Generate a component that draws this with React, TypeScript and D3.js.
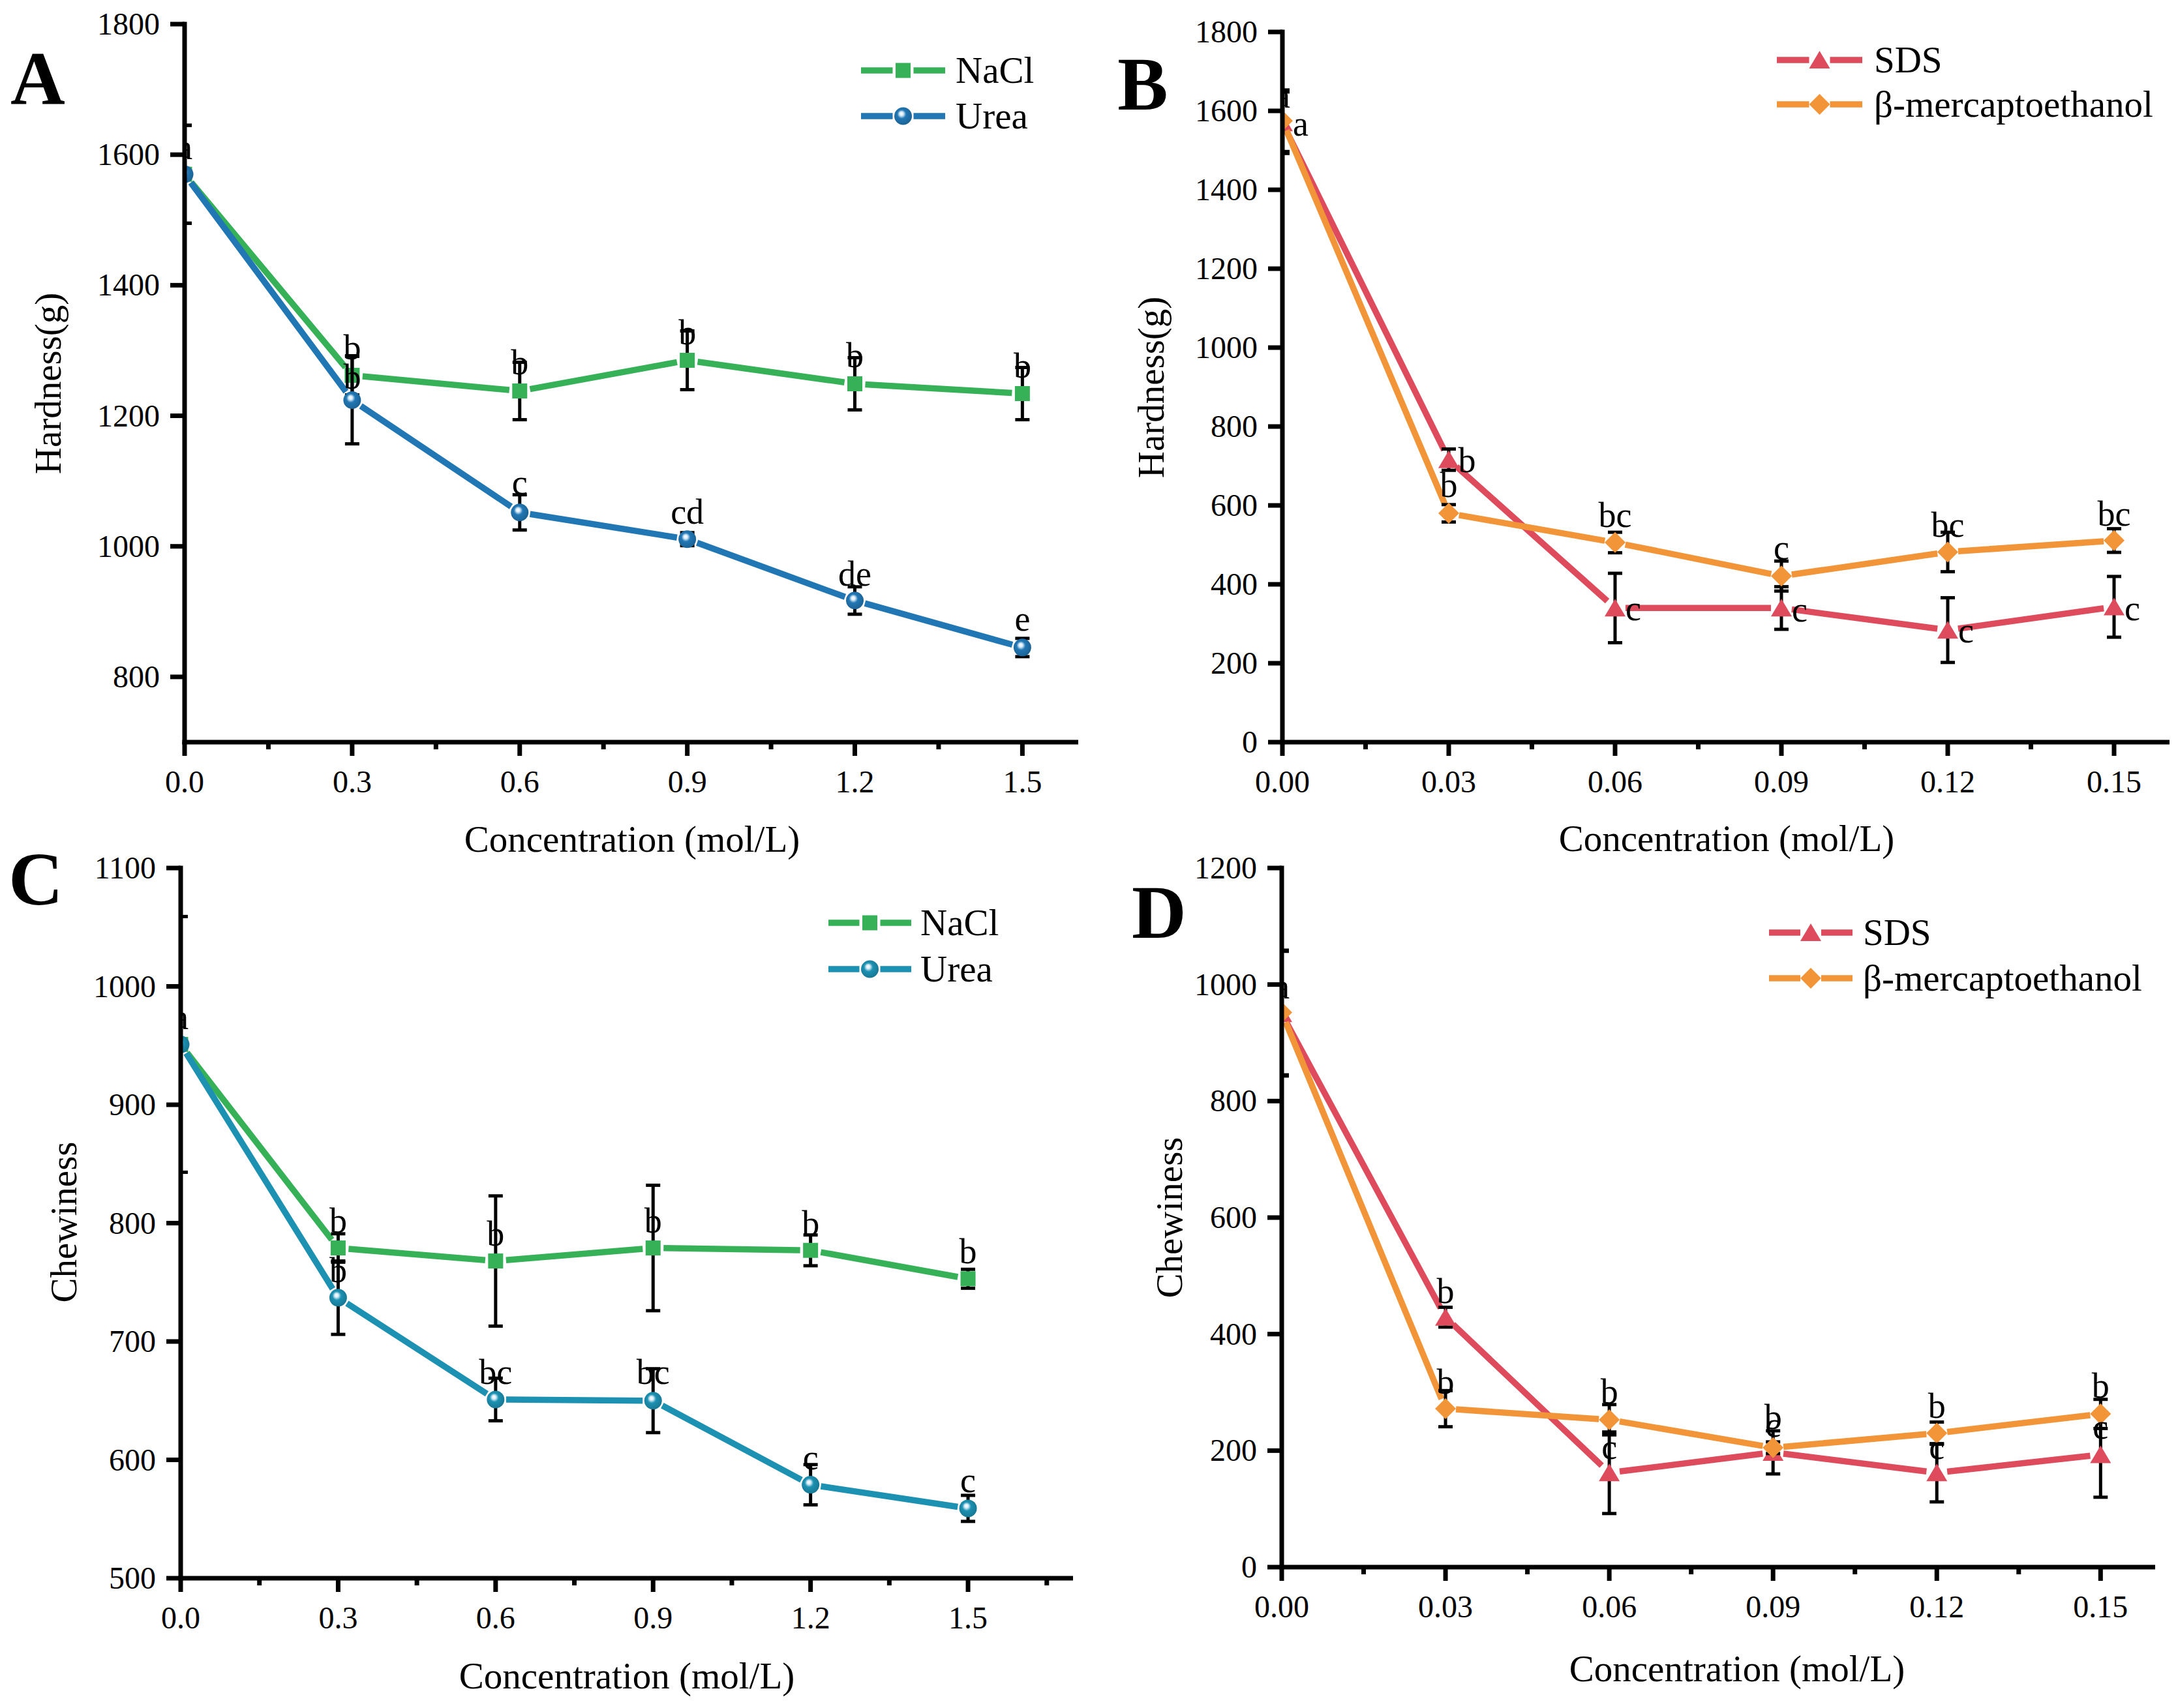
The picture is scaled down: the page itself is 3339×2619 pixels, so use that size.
import React from 'react';
import * as d3 from 'd3';

const FONT = '"Liberation Serif", "Times New Roman", serif';

// ---------- Data ----------
const concAC = [0, 0.3, 0.6, 0.9, 1.2, 1.5];
const concBD = [0, 0.03, 0.06, 0.09, 0.12, 0.15];

const xTicksAC = [0, 0.3, 0.6, 0.9, 1.2, 1.5];
const xMinorA = [0.15, 0.45, 0.75, 1.05, 1.35];
const xMinorC = [0.15, 0.45, 0.75, 1.05, 1.35, 1.65];
const xTicksBD = [0, 0.03, 0.06, 0.09, 0.12, 0.15];
const xMinorBD = [0.015, 0.045, 0.075, 0.105, 0.135];

const yTicksA = [800, 1000, 1200, 1400, 1600, 1800];
const yTicksB = [0, 200, 400, 600, 800, 1000, 1200, 1400, 1600, 1800];
const yTicksC = [500, 600, 700, 800, 900, 1000, 1100];
const yTicksD = [0, 200, 400, 600, 800, 1000, 1200];

// Panel A – Hardness (NaCl, Urea)
const hardNaCl = [1570, 1262, 1238, 1285, 1249, 1234];
const hardNaClErr = [75, 30, 44, 45, 40, 40];
const hardNaClLetters = ['a', 'b', 'b', 'b', 'b', 'b'];
const hardNaClLetterY = [1593, 1286, 1263, 1309, 1274, 1258];
const hardUrea = [1570, 1224, 1052, 1011, 917, 845];
const hardUreaErr = [75, 67, 27, 10, 21, 14];
const hardUreaLetters = ['a', 'b', 'c', 'cd', 'de', 'e'];
const hardUreaLetterY = [1593, 1242, 1080, 1035, 940, 871];

// Panel B – Hardness (SDS, β-mercaptoethanol)
const hardSDS = [1570, 716, 340, 340, 284, 343];
const hardSDSErr = [78, 27, 88, 54, 82, 77];
const hardSDSLetters = ['a', 'b', 'c', 'c', 'c', 'c'];
const hardSDSLetterY = [1537, 684, 309, 306, 253, 309];
const hardME = [1575, 580, 506, 421, 482, 511];
const hardMEErr = [78, 22, 26, 38, 50, 30];
const hardMELetters = ['a', 'b', 'bc', 'c', 'bc', 'bc'];
const hardMELetterY = [1608, 622, 545, 462, 520, 548];

// Panel C – Chewiness (NaCl, Urea)
const chewNaCl = [951, 779, 768, 779, 777, 753];
const chewNaClErr = [108, 12, 55, 53, 13, 8];
const chewNaClLetters = ['a', 'b', 'b', 'b', 'b', 'b'];
const chewNaClLetterY = [964, 792, 781, 792, 790, 766];
const chewUrea = [951, 737, 651, 650, 579, 559];
const chewUreaErr = [108, 31, 18, 27, 17, 11];
const chewUreaLetters = ['a', 'b', 'bc', 'bc', 'c', 'c'];
const chewUreaLetterY = [964, 750, 664, 664, 592, 573];

// Panel D – Chewiness (SDS, β-mercaptoethanol)
const chewSDS = [950, 429, 162, 197, 162, 193];
const chewSDSErr = [107, 17, 70, 37, 50, 73];
const chewSDSLetters = ['a', 'b', 'c', 'c', 'c', 'c'];
const chewSDSLetterY = [976, 453, 186, 224, 186, 221];
const chewME = [952, 272, 253, 205, 230, 263];
const chewMEErr = [107, 31, 26, 10, 19, 25];
const chewMELetters = ['a', 'b', 'b', 'b', 'b', 'b'];
const chewMELetterY = [976, 298, 281, 237, 256, 291];

// ---------- Styles ----------
const GREEN = '#36B158';
const BLUE = '#2177B4';
const TEAL = '#1C91B2';
const RED = '#DD4B5C';
const ORANGE = '#F29438';

type MarkerKind = 'square' | 'sphere' | 'triangle' | 'diamond';

type Series = {
  name: string;
  values: number[];
  errors: number[];
  letters: string[];
  letterY: number[];
  color: string;
  marker: MarkerKind;
  letterDx: number;
};

type PanelCfg = {
  id: string;
  letter: string;
  letterPos: [number, number];
  x: number[];
  xDomain: [number, number];
  xRange: [number, number];
  yDomain: [number, number];
  yRange: [number, number];
  xTicks: number[];
  xMinor: number[];
  yTicks: number[];
  xFmt: (v: number) => string;
  yTitle: string;
  yTitlePos: [number, number];
  xTitlePos: [number, number];
  legend: { x0: number; x1: number; textX: number; rows: number[] };
  series: Series[];
};

const fmt1 = d3.format('.1f');
const fmt2 = d3.format('.2f');

const panels: PanelCfg[] = [
  {
    id: 'A', letter: 'A', letterPos: [58, 159], x: concAC,
    xDomain: [0, 1.6], xRange: [283, 1653], yDomain: [700, 1800], yRange: [1138, 37],
    xTicks: xTicksAC, xMinor: xMinorA, yTicks: yTicksA, xFmt: fmt1,
    yTitle: 'Hardness(g)', yTitlePos: [93, 588], xTitlePos: [969, 1306],
    legend: { x0: 1320, x1: 1449, textX: 1465, rows: [108, 178] },
    series: [
      { name: 'NaCl', values: hardNaCl, errors: hardNaClErr, letters: hardNaClLetters, letterY: hardNaClLetterY, color: GREEN, marker: 'square', letterDx: 0 },
      { name: 'Urea', values: hardUrea, errors: hardUreaErr, letters: hardUreaLetters, letterY: hardUreaLetterY, color: BLUE, marker: 'sphere', letterDx: 0 },
    ],
  },
  {
    id: 'B', letter: 'B', letterPos: [1752, 168], x: concBD,
    xDomain: [0, 0.16], xRange: [1966, 3326], yDomain: [0, 1800], yRange: [1138, 49],
    xTicks: xTicksBD, xMinor: xMinorBD, yTicks: yTicksB, xFmt: fmt2,
    yTitle: 'Hardness(g)', yTitlePos: [1784, 594], xTitlePos: [2647, 1305],
    legend: { x0: 2724, x1: 2855, textX: 2873, rows: [92, 160] },
    series: [
      { name: 'SDS', values: hardSDS, errors: hardSDSErr, letters: hardSDSLetters, letterY: hardSDSLetterY, color: RED, marker: 'triangle', letterDx: 28 },
      { name: 'β-mercaptoethanol', values: hardME, errors: hardMEErr, letters: hardMELetters, letterY: hardMELetterY, color: ORANGE, marker: 'diamond', letterDx: 0 },
    ],
  },
  {
    id: 'C', letter: 'C', letterPos: [55, 1387], x: concAC,
    xDomain: [0, 1.7], xRange: [277, 1645], yDomain: [500, 1100], yRange: [2420, 1331],
    xTicks: xTicksAC, xMinor: xMinorC, yTicks: yTicksC, xFmt: fmt1,
    yTitle: 'Chewiness', yTitlePos: [117, 1874], xTitlePos: [961, 2589],
    legend: { x0: 1270, x1: 1397, textX: 1411, rows: [1415, 1486] },
    series: [
      { name: 'NaCl', values: chewNaCl, errors: chewNaClErr, letters: chewNaClLetters, letterY: chewNaClLetterY, color: GREEN, marker: 'square', letterDx: 0 },
      { name: 'Urea', values: chewUrea, errors: chewUreaErr, letters: chewUreaLetters, letterY: chewUreaLetterY, color: TEAL, marker: 'sphere', letterDx: 0 },
    ],
  },
  {
    id: 'D', letter: 'D', letterPos: [1777, 1438], x: concBD,
    xDomain: [0, 0.16], xRange: [1965, 3304], yDomain: [0, 1200], yRange: [2403, 1331],
    xTicks: xTicksBD, xMinor: xMinorBD, yTicks: yTicksD, xFmt: fmt2,
    yTitle: 'Chewiness', yTitlePos: [1812, 1867], xTitlePos: [2663, 2578],
    legend: { x0: 2712, x1: 2840, textX: 2856, rows: [1430, 1500] },
    series: [
      { name: 'SDS', values: chewSDS, errors: chewSDSErr, letters: chewSDSLetters, letterY: chewSDSLetterY, color: RED, marker: 'triangle', letterDx: 0 },
      { name: 'β-mercaptoethanol', values: chewME, errors: chewMEErr, letters: chewMELetters, letterY: chewMELetterY, color: ORANGE, marker: 'diamond', letterDx: 0 },
    ],
  },
];

const LINE_W = 9.5;
const AXIS_W = 7;
const GAP = 16;

function Marker({ kind, x, y, color, gid }: { kind: MarkerKind; x: number; y: number; color: string; gid: string }) {
  if (kind === 'square') {
    return <rect x={x - 11.5} y={y - 11.5} width={23} height={23} fill={color} />;
  }
  if (kind === 'sphere') {
    return <circle cx={x} cy={y} r={13.5} fill={`url(#${gid})`} />;
  }
  if (kind === 'triangle') {
    const d = `M${x},${y - 14}L${x + 16},${y + 13}L${x - 16},${y + 13}Z`;
    return <path d={d} fill={color} />;
  }
  const d = `M${x},${y - 16}L${x + 16},${y}L${x},${y + 16}L${x - 16},${y}Z`;
  return <path d={d} fill={color} />;
}

function Panel({ cfg }: { cfg: PanelCfg }) {
  const xs = d3.scaleLinear().domain(cfg.xDomain).range(cfg.xRange);
  const ys = d3.scaleLinear().domain(cfg.yDomain).range(cfg.yRange);
  const [x0, x1] = cfg.xRange;
  const [yb, yt] = cfg.yRange;
  const clipId = `clip-${cfg.id}`;
  const line = d3.line<[number, number]>();

  const gapSegments = (pts: [number, number][]) =>
    d3.pairs(pts).map(([a, b]) => {
      const dx = b[0] - a[0];
      const dy = b[1] - a[1];
      const L = Math.hypot(dx, dy) || 1;
      const ux = dx / L;
      const uy = dy / L;
      return line([
        [a[0] + ux * GAP, a[1] + uy * GAP],
        [b[0] - ux * GAP, b[1] - uy * GAP],
      ]) as string;
    }).join('');

  return (
    <g>
      <defs>
        <clipPath id={clipId}>
          <rect x={x0} y={yt - 60} width={x1 - x0 + 20} height={yb - yt + 60} />
        </clipPath>
        {cfg.series.map((s, si) => (
          <radialGradient key={si} id={`grad-${cfg.id}-${si}`} cx="0.45" cy="0.45" r="0.6" fx="0.4" fy="0.35">
            <stop offset="0" stopColor="#ffffff" />
            <stop offset="0.18" stopColor="#d8ecf8" />
            <stop offset="0.42" stopColor={s.color} />
            <stop offset="1" stopColor={d3.color(s.color)!.darker(0.6).formatHex()} />
          </radialGradient>
        ))}
      </defs>

      {/* data */}
      <g clipPath={`url(#${clipId})`}>
        {cfg.series.map((s, si) => {
          const pts = s.values.map((v, i) => [xs(cfg.x[i]), ys(v)] as [number, number]);
          return (
            <g key={si}>
              <path d={gapSegments(pts)} fill="none" stroke={s.color} strokeWidth={LINE_W} strokeLinecap="butt" />
              {s.values.map((v, i) => {
                const cx = xs(cfg.x[i]);
                const top = ys(v + s.errors[i]);
                const bot = ys(v - s.errors[i]);
                return (
                  <g key={i} stroke="#000" strokeWidth={5}>
                    <line x1={cx} x2={cx} y1={top} y2={bot} />
                    <line x1={cx - 11} x2={cx + 11} y1={top} y2={top} />
                    <line x1={cx - 11} x2={cx + 11} y1={bot} y2={bot} />
                  </g>
                );
              })}
              {pts.map((p, i) => (
                <Marker key={i} kind={s.marker} x={p[0]} y={p[1]} color={s.color} gid={`grad-${cfg.id}-${si}`} />
              ))}
            </g>
          );
        })}
        {cfg.series.map((s, si) => (
          <g key={`l${si}`}>
            {s.letters.map((t, i) => (
              <text key={i} x={xs(cfg.x[i]) + s.letterDx} y={ys(s.letterY[i])} textAnchor="middle"
                fontFamily={FONT} fontSize={54} fill="#000">{t}</text>
            ))}
          </g>
        ))}
      </g>

      {/* axes */}
      <g stroke="#000" strokeWidth={AXIS_W}>
        <line x1={x0} x2={x0} y1={yt - AXIS_W / 2} y2={yb + AXIS_W / 2} />
        <line x1={x0 - AXIS_W / 2} x2={x1} y1={yb} y2={yb} />
        {cfg.yTicks.map((t) => (
          <line key={`yt${t}`} x1={x0 - 22} x2={x0} y1={ys(t)} y2={ys(t)} />
        ))}
        {cfg.xTicks.map((t) => (
          <line key={`xt${t}`} x1={xs(t)} x2={xs(t)} y1={yb} y2={yb + 21} />
        ))}
        {cfg.xMinor.map((t) => (
          <line key={`xm${t}`} x1={xs(t)} x2={xs(t)} y1={yb} y2={yb + 11} />
        ))}
      </g>
      <g fontFamily={FONT} fontSize={48} fill="#000">
        {cfg.yTicks.map((t) => (
          <text key={`ytl${t}`} x={x0 - 38} y={ys(t) + 16} textAnchor="end">{t}</text>
        ))}
        {cfg.xTicks.map((t) => (
          <text key={`xtl${t}`} x={xs(t)} y={yb + 77} textAnchor="middle">{cfg.xFmt(t)}</text>
        ))}
      </g>

      {/* titles */}
      <text x={cfg.xTitlePos[0]} y={cfg.xTitlePos[1]} textAnchor="middle" fontFamily={FONT} fontSize={57}>
        Concentration (mol/L)
      </text>
      <text transform={`translate(${cfg.yTitlePos[0]},${cfg.yTitlePos[1]}) rotate(-90)`} textAnchor="middle"
        fontFamily={FONT} fontSize={57}>
        {cfg.yTitle}
      </text>
      <text x={cfg.letterPos[0]} y={cfg.letterPos[1]} textAnchor="middle" fontFamily={FONT} fontSize={116} fontWeight="bold">
        {cfg.letter}
      </text>

      {/* legend */}
      {cfg.series.map((s, si) => {
        const y = cfg.legend.rows[si];
        const mid = (cfg.legend.x0 + cfg.legend.x1) / 2;
        return (
          <g key={`lg${si}`}>
            <line x1={cfg.legend.x0} x2={mid - GAP} y1={y} y2={y} stroke={s.color} strokeWidth={LINE_W} />
            <line x1={mid + GAP} x2={cfg.legend.x1} y1={y} y2={y} stroke={s.color} strokeWidth={LINE_W} />
            <Marker kind={s.marker} x={mid} y={y} color={s.color} gid={`grad-${cfg.id}-${si}`} />
            <text x={cfg.legend.textX} y={y + 19} fontFamily={FONT} fontSize={57} fill="#000">{s.name}</text>
          </g>
        );
      })}
    </g>
  );
}

export default function App() {
  return (
    <svg width={3339} height={2619} viewBox="0 0 3339 2619"
      style={{ position: 'absolute', left: 0, top: 0, background: '#fff', display: 'block' }}>
      <rect x={0} y={0} width={3339} height={2619} fill="#fff" />
      {panels.map((p) => (
        <Panel key={p.id} cfg={p} />
      ))}
    </svg>
  );
}
